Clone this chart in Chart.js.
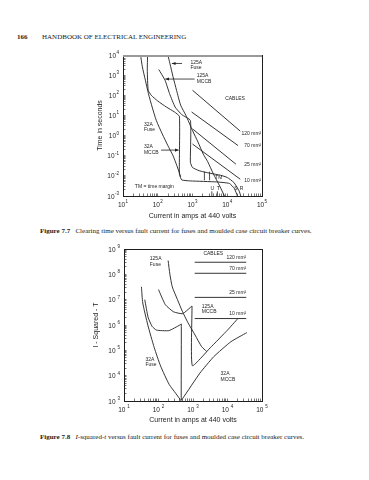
<!DOCTYPE html>
<html>
<head>
<meta charset="utf-8">
<script src="https://cdn.jsdelivr.net/npm/chart.js@4.4.1/dist/chart.umd.min.js"></script>
<style>
body{margin:0;background:#fff;width:369px;height:480px;position:relative;overflow:hidden;font-family:"Liberation Serif",serif;color:#222}
.t{position:absolute;white-space:nowrap;line-height:1}
canvas{position:absolute}
</style>
</head>
<body>
<div class="t" style="left:17px;top:34px;font-size:7px;font-weight:bold">166</div>
<div class="t" style="left:42px;top:34px;font-size:7px">HANDBOOK OF ELECTRICAL ENGINEERING</div>
<canvas id="timeChart" width="220" height="185" style="left:60px;top:40px"></canvas>
<div class="t" style="left:40px;top:228px;font-size:7px"><b>Figure 7.7</b>&nbsp;&nbsp; Clearing time versus fault current for fuses and moulded case circuit breaker curves.</div>
<canvas id="i2tChart" width="220" height="195" style="left:60px;top:235px"></canvas>
<div class="t" style="left:40px;top:434px;font-size:7px"><b>Figure 7.8</b>&nbsp;&nbsp; <i>I</i>-squared-<i>t</i> versus fault current for fuses and moulded case circuit breaker curves.</div>
<script>
// ---- Figure 7.7 : clearing time (s) vs fault current (A) ----
const fuse32Amps=[32,36,44,54,69,91,135,195,275,355,457]
const fuse32Secs=[10000,2630,562,120,26,5.6,1.2,0.32,0.1,0.032,0.009]

const mccb32Amps=[51,50,53,65,100,178,300,420,420,490,870,4900,11500,16200,19500]
const mccb32Secs=[10000,1780,178,100,52,26,15,9,0.012,0.0063,0.0056,0.005,0.0042,0.0023,0.001]

const mccb125Amps=[107,162,219,316,490,870,870,1000,1550,3160,6460,10000,15500,21900,24500]
const mccb125Secs=[1900,560,120,26,11,5.6,0.047,0.026,0.018,0.0135,0.0107,0.0083,0.0047,0.0018,0.001]

const fuse125Amps=[195,224,275,347,457,646,1000,1445,2040,2750,3980,6030,8300]
const fuse125Secs=[10000,3800,830,178,32,10,1.78,0.47,0.12,0.05,0.0126,0.0032,0.001]

const cableSizes=["120 mm²","70 mm²","25 mm²","10 mm²"]
const cableTimeAmps=[[1000,23700],[944,20400],[1000,17800],[1000,23700]]
const cableTimeSecs=[[178,1.66],[14.8,0.32],[2.14,0.038],[0.38,0.0068]]

const timeTickExps=[-3,-2,-1,0,1,2,3,4]
const ampTickExps=[1,2,3,4,5]

// ---- Figure 7.8 : I-squared-t vs fault current (A) ----
const fuse32I2t=[3.2e7,7.4e6,1e6,1.3e5,2.4e4,4.5e3,2e3,1e3]
const fuse32I2tAmps=[32,35,49,75,115,204,316,457]

const mccb32I2tAmps=[40,50,65,87,200,417,457,457,501,1585,3980,12600,36300]
const mccb32I2t=[1e7,2e6,8.9e5,6.3e5,6e5,1e6,1.1e6,1.1e3,1.26e3,1.26e4,5.6e4,2.2e5,5e5]

const mccb125I2tAmps=[100,158,275,501,851,933,955,3160,10000,20000]
const mccb125I2t=[2.5e7,6.3e6,3.3e6,2.8e6,5e6,5.6e6,2.5e4,1.26e5,6.3e5,1.8e6]

const fuse125I2tAmps=[190,214,251,355,490,708,1150,1780,2510]
const fuse125I2t=[3.5e8,1e8,3.2e7,1e7,3.5e6,1.26e6,4e5,1.4e5,8.9e4]

const cableI2tAmps=[1120,35000]
const cableI2t=[3e8,1.1e8,1.23e7,1.8e6]

const i2tTickExps=[3,4,5,6,7,8,9]

const INK="#1e1e1e"
const SANS="'Liberation Sans', Arial, sans-serif"

// minor ticks 1..9 in each decade
function decadeTicks(exps){
let v=[]
for(let i=0;i<exps.length-1;i++){
for(let s=1;s<10;s++) v.push(s*Math.pow(10,exps[i]))
}
v.push(Math.pow(10,exps[exps.length-1]))
return v
}

function curve(xs,ys,tension){
return{
data:xs.map((x,i)=>({x:x,y:ys[i]})),
showLine:true,
borderColor:INK,
borderWidth:0.9,
pointRadius:0,
tension:tension,
fill:false
}
}

function logAxis(o){
return{
type:"logarithmic",
position:o.pos,
min:o.min,
max:o.max,
afterBuildTicks:s=>{s.ticks=o.ticks.map(v=>({value:v}))},
afterFit:s=>{if(o.pos==="left") s.width=o.size; else s.height=o.size},
ticks:{autoSkip:false,maxRotation:0,padding:0,callback:()=>""},
grid:{drawOnChartArea:false,drawTicks:true,tickLength:-2.5,color:"#555",lineWidth:0.8},
border:{display:true,color:INK,width:1},
title:{display:true,text:o.title,color:INK,font:{size:7},padding:o.titlePad}
}
}

// "10" with a raised exponent
function powText(ctx,e,x,y,align,gap){
ctx.font="6.5px "+SANS
let w1=ctx.measureText("10").width
ctx.font="4.5px "+SANS
let w2=ctx.measureText(String(e)).width
let tot=w1+gap+w2
let x0=align==="center"?x-tot/2:x-tot
ctx.textAlign="left"
ctx.textBaseline="alphabetic"
ctx.font="6.5px "+SANS
ctx.fillText("10",x0,y+2.5)
ctx.font="4.5px "+SANS
ctx.fillText(String(e),x0+w1+gap,y-1)
}

// tick labels, labels, arrows, box
const extras={
id:"extras",
afterDatasetsDraw(chart,args,opts){
const ctx=chart.ctx
const a=chart.chartArea
const xs=chart.scales.x
const ys=chart.scales.y
const px=v=>xs.getPixelForValue(v)
const py=v=>ys.getPixelForValue(v)
ctx.save()
ctx.strokeStyle=INK
ctx.lineWidth=1
ctx.strokeRect(a.left+0.5,a.top+0.5,a.right-a.left,a.bottom-a.top)
if(opts.greyTop){
ctx.strokeStyle="#999"
ctx.lineWidth=2
ctx.beginPath();ctx.moveTo(a.left,a.top+1);ctx.lineTo(a.right,a.top+1);ctx.stroke()
}
ctx.strokeStyle=INK
ctx.fillStyle=INK
ctx.lineWidth=0.8
opts.xExps.forEach(e=>powText(ctx,e,px(Math.pow(10,e)),a.bottom+8,"center",opts.gap))
opts.yExps.forEach(e=>powText(ctx,e,a.left-4,py(Math.pow(10,e)),"right",opts.gap))
;(opts.marks||[]).forEach(m=>{
ctx.beginPath();ctx.moveTo(px(m[0]),py(m[1]));ctx.lineTo(px(m[2]),py(m[3]));ctx.stroke()
})
;(opts.arrows||[]).forEach(m=>{
let x1=px(m[0]),y1=py(m[1]),x2=px(m[2]),y2=py(m[3])
let ang=Math.atan2(y2-y1,x2-x1)
ctx.beginPath();ctx.moveTo(x1,y1);ctx.lineTo(x2,y2);ctx.stroke()
ctx.beginPath()
ctx.moveTo(x2,y2)
ctx.lineTo(x2-4*Math.cos(ang-0.4),y2-4*Math.sin(ang-0.4))
ctx.lineTo(x2-4*Math.cos(ang+0.4),y2-4*Math.sin(ang+0.4))
ctx.closePath();ctx.fill()
})
ctx.font="5px "+SANS
ctx.textBaseline="middle"
;(opts.labels||[]).forEach(l=>{
ctx.textAlign=l[3]||"left"
ctx.fillText(l[0],px(l[1]),py(l[2]))
})
ctx.restore()
}
}

Chart.defaults.font.family=SANS
Chart.defaults.animation=false

const timeSets=[
curve(fuse32Amps,fuse32Secs,0.2),
curve(mccb32Amps,mccb32Secs,0.15),
curve(mccb125Amps,mccb125Secs,0.15),
curve(fuse125Amps,fuse125Secs,0.2)
]
cableTimeAmps.forEach((xs,i)=>timeSets.push(curve(xs,cableTimeSecs[i],0)))

new Chart(document.getElementById("timeChart"),{
type:"scatter",
data:{datasets:timeSets},
options:{
responsive:false,
devicePixelRatio:1,
layout:{padding:{left:30,right:18,top:15,bottom:0}},
plugins:{
legend:{display:false},
tooltip:{enabled:false},
extras:{
greyTop:true,
gap:0.5,
xExps:ampTickExps,
yExps:timeTickExps,
labels:[
["125A",870,4200],["Fuse",870,2300],
["125A",1320,900],["MCCB",1320,500],
["CABLES",8700,68],
["32A",40,3.5],["Fuse",40,1.9],
["32A",40,0.27],["MCCB",40,0.15],
[cableSizes[0],95000,1.25,"right"],[cableSizes[1],95000,0.3,"right"],
[cableSizes[2],95000,0.038,"right"],[cableSizes[3],95000,0.0056,"right"],
["TM",4500,0.0085],
["TM = time margin",80,0.0028,"center"],
["U",3300,0.0024],["T",5000,0.0024],["S",16000,0.0024],["R",23000,0.0024]
],
arrows:[[500,3800,255,3800],[1150,640,165,640],[125,0.19,400,0.19]],
marks:[[2200,0.006,2200,0.016],[3100,0.006,3100,0.016],[3600,0.0017,3600,0.001],[5200,0.0017,5200,0.001]]
}
},
scales:{
x:logAxis({pos:"bottom",min:10,max:1e5,ticks:decadeTicks(ampTickExps),size:29,title:"Current in amps at 440 volts",titlePad:{top:0,bottom:5}}),
y:logAxis({pos:"left",min:1e-3,max:1e4,ticks:decadeTicks(timeTickExps),size:33,title:"Time in seconds",titlePad:{top:6,bottom:0}})
}
},
plugins:[extras]
})

const i2tSets=[
curve(fuse32I2tAmps,fuse32I2t,0.2),
curve(mccb32I2tAmps,mccb32I2t,0.15),
curve(mccb125I2tAmps,mccb125I2t,0.15),
curve(fuse125I2tAmps,fuse125I2t,0.2)
]
cableI2t.forEach(v=>i2tSets.push(curve(cableI2tAmps,[v,v],0)))

new Chart(document.getElementById("i2tChart"),{
type:"scatter",
data:{datasets:i2tSets},
options:{
responsive:false,
devicePixelRatio:1,
layout:{padding:{left:31,right:18,top:14,bottom:0}},
plugins:{
legend:{display:false},
tooltip:{enabled:false},
extras:{
gap:2,
xExps:ampTickExps,
yExps:i2tTickExps,
labels:[
["125A",56,4e8],["Fuse",56,2.5e8],
["CABLES",2000,6.5e8],
[cableSizes[0],35000,4.6e8,"right"],[cableSizes[1],35000,1.65e8,"right"],
[cableSizes[2],35000,1.9e7,"right"],[cableSizes[3],35000,2.9e6,"right"],
["125A",1800,5.5e6],["MCCB",1800,3.4e6],
["32A",42,4.4e4],["Fuse",42,2.8e4],
["32A",6300,1.2e4],["MCCB",6300,7e3]
]
}
},
scales:{
x:logAxis({pos:"bottom",min:10,max:1e5,ticks:decadeTicks(ampTickExps),size:29,title:"Current in amps at 440 volts",titlePad:{top:0,bottom:6}}),
y:logAxis({pos:"left",min:1e3,max:1e9,ticks:decadeTicks(i2tTickExps),size:33,title:"I - Squared - T",titlePad:{top:1,bottom:0}})
}
},
plugins:[extras]
})
</script>
</body>
</html>
